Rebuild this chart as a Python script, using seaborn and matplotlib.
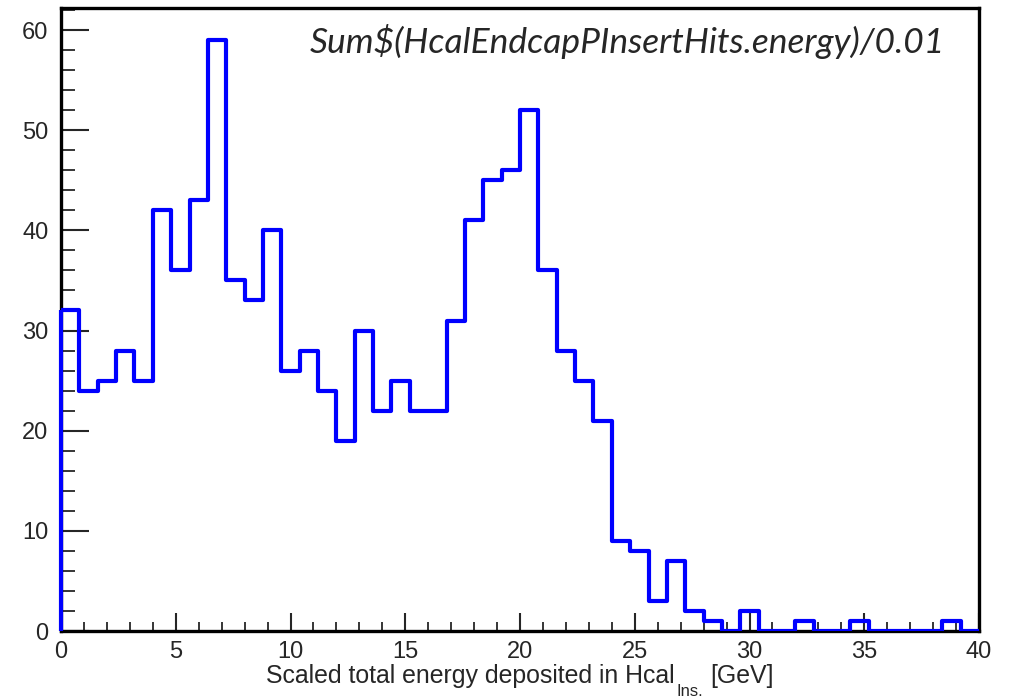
import numpy as np
import pandas as pd
import matplotlib
matplotlib.use("Agg")
import matplotlib.pyplot as plt
from matplotlib.ticker import MultipleLocator
import seaborn as sns

# Histogram contents: 50 bins of 0.8 GeV between 0 and 40 GeV
bin_lo = 0.0
bin_hi = 40.0
n_bins = 50
counts = [32, 24, 25, 28, 25, 42, 36, 43, 59, 35,
          33, 40, 26, 28, 24, 19, 30, 22, 25, 22,
          22, 31, 41, 45, 46, 52, 36, 28, 25, 21,
          9, 8, 3, 7, 2, 1, 0, 2, 0, 0,
          1, 0, 0, 1, 0, 0, 0, 0, 1, 0]

title_text = r"Sum\$(HcalEndcapPInsertHits.energy)/0.01"
x_label_main = "Scaled total energy deposited in Hcal"
x_label_sub = "Ins."
x_label_unit = "[GeV]"

edges = np.linspace(bin_lo, bin_hi, n_bins + 1)
centers = 0.5 * (edges[:-1] + edges[1:])
df = pd.DataFrame({"energy": centers, "n": counts})

sns.set_style("ticks")
plt.rcParams["font.family"] = ["Liberation Sans", "DejaVu Sans"]

W, H = 1009, 699
fig = plt.figure(figsize=(W / 100, H / 100), dpi=100)
ax = fig.add_axes([61 / W, 1 - 631 / H, (979 - 61) / W, (631 - 8) / H])

blue = "#0000ff"
sns.histplot(data=df, x="energy", weights="n", bins=edges.tolist(), element="step",
             fill=False, color=blue, linewidth=3.0, ax=ax, zorder=3)
# left edge of the first bin, drawn from zero like a ROOT outline
ax.vlines(edges[0], 0, counts[0], color=blue, linewidth=3.0, zorder=4, clip_on=False)

ax.set_xlim(bin_lo, bin_hi)
ax.set_ylim(0, 62.2)

for side in ["left", "right", "top", "bottom"]:
    ax.spines[side].set_visible(True)
    ax.spines[side].set_linewidth(2.4)
    ax.spines[side].set_color("black")

ax.xaxis.set_major_locator(MultipleLocator(5))
ax.xaxis.set_minor_locator(MultipleLocator(1))
ax.yaxis.set_major_locator(MultipleLocator(10))
ax.yaxis.set_minor_locator(MultipleLocator(2))

ax.tick_params(axis="x", which="major", direction="in", length=13, width=1.5,
               labelsize=17, pad=7, top=False)
ax.tick_params(axis="x", which="minor", direction="in", length=6.5, width=1.3, top=False)
ax.tick_params(axis="y", which="major", direction="in", length=20, width=1.5,
               labelsize=17, pad=9, right=False)
ax.tick_params(axis="y", which="minor", direction="in", length=10, width=1.3, right=False)

ax.set_xlabel("")
ax.set_ylabel("")

# axis title with a dropped subscript
fig.text(675 / W, 1 - 683 / H, x_label_main, fontsize=17.9, ha="right", va="baseline")
fig.text(677 / W, 1 - 696 / H, x_label_sub, fontsize=12, ha="left", va="baseline")
fig.text(710 / W, 1 - 683 / H, x_label_unit, fontsize=17.9, ha="left", va="baseline")

fig.text(945 / W, 1 - 53 / H, title_text, fontsize=25.5, style="italic",
         family=["Lato", "DejaVu Sans"], ha="right", va="baseline")

fig.savefig("out.png", dpi=100)
